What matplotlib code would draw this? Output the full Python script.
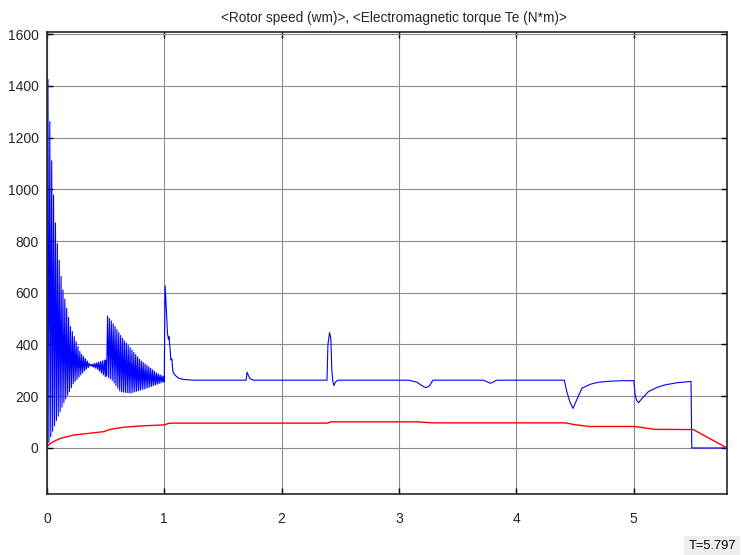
import numpy as np
import matplotlib
matplotlib.use("Agg")
import matplotlib.pyplot as plt

plt.rcParams['font.family'] = ['Liberation Sans', 'DejaVu Sans']

title = "<Rotor speed (wm)>, <Electromagnetic torque Te (N*m)>"
x_ticks = [0, 1, 2, 3, 4, 5]
y_ticks = [0, 200, 400, 600, 800, 1000, 1200, 1400, 1600]
t_end = 5.797

# Rotor speed: start-up oscillation envelopes (0 - 0.5 s)
burst1_up_t = [0.0, 0.007, 0.03, 0.05, 0.07, 0.09, 0.13, 0.2, 0.285, 0.37, 0.43, 0.497]
burst1_up_v = [0, 1435, 1200, 1020, 880, 780, 624, 469, 367, 322, 330, 340]
burst1_lo_t = [0.0, 0.015, 0.072, 0.143, 0.228, 0.313, 0.37, 0.43, 0.497]
burst1_lo_v = [0, 20, 97, 174, 251, 295, 318, 305, 275]

# Rotor speed: second oscillation envelopes (0.5 - 1.0 s)
burst2_up_t = [0.5, 0.505, 0.55, 0.652, 0.794, 0.936, 0.997]
burst2_up_v = [340, 517, 490, 418, 340, 289, 276]
burst2_lo_t = [0.5, 0.554, 0.624, 0.71, 0.851, 0.997]
burst2_lo_v = [280, 263, 218, 212, 231, 256]
osc_half_period = 0.008

# Rotor speed after 1.0 s
speed_t = [1.0, 1.003, 1.007, 1.015, 1.027, 1.035, 1.04, 1.05, 1.055, 1.065, 1.072, 1.078,
           1.1, 1.12, 1.16, 1.25, 1.697, 1.706, 1.715, 1.73, 1.76, 2.387, 2.395, 2.409,
           2.42, 2.428, 2.436, 2.445, 2.46, 2.48, 3.08, 3.15, 3.2, 3.23, 3.26, 3.29,
           3.72, 3.75, 3.78, 3.81, 3.83, 4.41, 4.43, 4.46, 4.485, 4.51, 4.56, 4.63, 4.7,
           4.8, 4.9, 5.003, 5.015, 5.03, 5.043, 5.07, 5.128, 5.2, 5.27, 5.37, 5.467,
           5.49, 5.497, t_end]
speed_v = [256, 450, 627, 560, 444, 420, 430, 380, 340, 345, 300, 289,
           278, 270, 265, 262, 262, 293, 282, 268, 262, 262, 400, 446,
           420, 300, 262, 241, 255, 262, 262, 255, 240, 233, 240, 262,
           262, 256, 250, 256, 262, 262, 220, 175, 153, 180, 231, 246, 254,
           258, 260, 260, 200, 182, 175, 190, 218, 234, 244, 252, 256,
           257, 0, 0]

# Electromagnetic torque
torque_t = [0, 0.01, 0.03, 0.07, 0.115, 0.228, 0.35, 0.483, 0.54, 0.652, 0.794, 0.99,
            1.007, 1.035, 1.063, 1.5, 2.39, 2.42, 3.15, 3.29, 4.42, 4.5, 4.62, 5.01,
            5.18, 5.51, t_end]
torque_v = [0, 10, 18, 28, 37, 50, 56, 63, 72, 80, 85, 89,
            90, 95, 96, 96, 96, 101, 101, 97, 97, 90, 83, 83,
            72, 71, 0]


def oscillation(up_t, up_v, lo_t, lo_v, t0, t1, start_low=True):
    """Alternate between lower and upper envelopes every half period."""
    tt = np.arange(t0, t1, osc_half_period)
    hi = np.interp(tt, up_t, up_v)
    lo = np.interp(tt, lo_t, lo_v)
    idx = np.arange(len(tt))
    first = 0 if start_low else 1
    vv = np.where((idx + first) % 2 == 0, lo, hi)
    return tt, vv


t1, v1 = oscillation(burst1_up_t, burst1_up_v, burst1_lo_t, burst1_lo_v, 0.0, 0.5)
t2, v2 = oscillation(burst2_up_t, burst2_up_v, burst2_lo_t, burst2_lo_v, 0.5, 1.0, start_low=False)
speed_all_t = np.concatenate([t1, t2, speed_t])
speed_all_v = np.concatenate([v1, v2, speed_v])

fig = plt.figure(figsize=(7.41, 5.55), dpi=100)
ax = fig.add_axes([47 / 741, 61 / 555, 680 / 741, 462 / 555])

ax.plot(speed_all_t, speed_all_v, color='#0000ff', lw=0.8)
ax.plot(torque_t, torque_v, color='#ff0000', lw=1.0)

ax.set_xlim(0, t_end)
ax.set_ylim(-178, 1608)
ax.set_xticks(x_ticks)
ax.set_yticks(y_ticks)
ax.set_xticklabels([str(v) for v in x_ticks])
ax.set_yticklabels([str(v) for v in y_ticks])
ax.grid(True, color='#8c8c8c', lw=0.8)
ax.set_axisbelow(True)
ax.tick_params(direction='in', top=True, right=True, length=4, width=1,
               labelsize=10, colors='black', labelcolor='#262626')
ax.tick_params(axis='x', pad=13)
ax.tick_params(axis='y', pad=6)
for s in ax.spines.values():
    s.set_color('#262626')
    s.set_linewidth(1.2)

fig.text(0.532, 0.968, title, ha='center', va='center', fontsize=9.8, color='#262626')
fig.text(0.993, 0.006, "T=%.3f" % t_end, ha='right', va='bottom', fontsize=9.3, color='black',
         bbox=dict(boxstyle='square,pad=0.3', fc='#eeeeee', ec='none'))

fig.savefig("out.png", dpi=100)
